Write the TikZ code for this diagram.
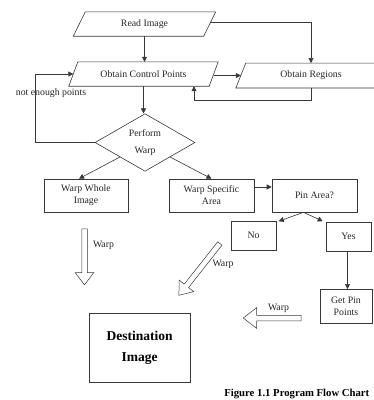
\documentclass[tikz,border=0pt]{standalone}
\usepackage{fontspec}
\setmainfont{Liberation Serif}
\usetikzlibrary{arrows.meta,shapes.geometric,shapes.arrows}
\tikzset{
  ln/.style={draw=black!78, line width=0.6pt},
  arr/.style={ln, -{Triangle[length=5pt,width=5pt]}},
  txt/.style={font=\fontsize{9.8}{12}\selectfont, text=black!85, inner sep=0pt, align=center},
  paranode/.style={txt, minimum width=#1, minimum height=24pt},
  boxnode/.style={txt, ln, rectangle, minimum width=85pt, minimum height=33pt},
  hollow/.style={single arrow, ln, line width=0.5pt, fill=white, inner sep=2.5pt, single arrow tip angle=75, single arrow head extend=6.5pt, minimum width=18pt},
}
\newcommand\paradraw[2]{\draw[ln] ([xshift=#2]#1.north west) -- ([xshift=#2]#1.north east) -- ([xshift=-#2]#1.south east) -- ([xshift=-#2]#1.south west) -- cycle;}
\begin{document}
\begin{tikzpicture}[x=1pt,y=-1pt]
\useasboundingbox (0,0) rectangle (374,400);
\clip (0,0) rectangle (374,400);
\fill[white] (0,0) rectangle (374,400);
% parallelograms
\node[paranode=130pt] (read) at (144.5,24) {Read Image};
\paradraw{read}{6pt}
\node[paranode=140pt] (ocp) at (143.5,74) {Obtain Control Points};
\paradraw{ocp}{4.5pt}
\node[paranode=140pt, minimum height=24.5pt] (or) at (311,75.5) {Obtain Regions};
\paradraw{or}{5pt}
% diamond
\node[txt, ln, diamond, minimum width=100pt, minimum height=55pt] (dia) at (145,142.5) {Perform\\[4.5pt]Warp};
% boxes
\node[boxnode, minimum width=84pt] (wwi) at (86,195.5) {Warp Whole\\Image};
\node[boxnode] (wsa) at (211.5,195.5) {Warp Specific\\Area};
\node[boxnode] (pin) at (314.5,195.5) {Pin Area?};
\node[boxnode, minimum width=45pt, minimum height=29pt] (no) at (253.5,235.5) {No};
\node[boxnode, minimum width=45pt, minimum height=29pt] (yes) at (348.5,236.5) {Yes};
\node[boxnode, minimum width=52pt, minimum height=34pt] (get) at (346,306.3) {Get Pin\\Points};
\node[ln, rectangle, minimum width=100.7pt, minimum height=69pt, inner sep=0pt, align=center,
      font=\fontsize{13.5}{21}\selectfont\bfseries] (dest) at (139.7,347.8) {Destination\\Image};
% connectors
\draw[arr] (read.south) -- (read.south |- ocp.north);
\draw[arr] ([yshift=2pt]read.east) -| (or.north);
\draw[arr] ([yshift=-1.5pt]ocp.east) -- ([yshift=-1.5pt]ocp.east -| or.west);
\draw[arr] (or.south) -- ++(0,12.5) -| ([xshift=50.5pt]ocp.south);
\draw[arr] (ocp.south) -- (ocp.south |- dia.north);
\draw[arr] (dia.west) -- ++(-59,0) coordinate (lc) |- (ocp.west);
\node[txt] (ne) at (51,93) {not enough points};
\draw[arr] (dia.south west) -- ([xshift=-7pt]wwi.north);
\draw[arr] (dia.south east) -- (wsa.north);
\draw[arr] ([yshift=8.5pt]wsa.east) -- ([yshift=8.5pt]wsa.east -| pin.west);
\coordinate (pj) at ([xshift=-11pt]pin.south);
\draw[arr] (pj) -- ([xshift=2.5pt,yshift=-0.5pt]no.north east);
\draw[arr] (pj) -- ([xshift=-3pt,yshift=0.5pt]yes.north west);
\draw[arr] ([xshift=-1pt]yes.south) -- ([xshift=-1pt]yes.south |- get.north);
% hollow arrows
\node[hollow, rotate=-90, minimum height=56pt] (h1) at (84.5,255) {};
\node[hollow, rotate=231.7, minimum height=66pt] (h2) at (200.5,268) {};
\node[hollow, rotate=180, minimum height=58pt, minimum width=20pt, single arrow head extend=7.5pt] (h3) at (274,318) {};
\node[txt] (w1) at (103.5,245.5) {Warp};
\node[txt] (w2) at (223,264) {Warp};
\node[txt] (w3) at (278.5,308) {Warp};
% caption
\node[anchor=east, inner sep=0pt, font=\fontsize{10.7}{12}\selectfont\bfseries] (cap) at (369.5,394) {Figure 1.1 Program Flow Chart};
\end{tikzpicture}
\end{document}
